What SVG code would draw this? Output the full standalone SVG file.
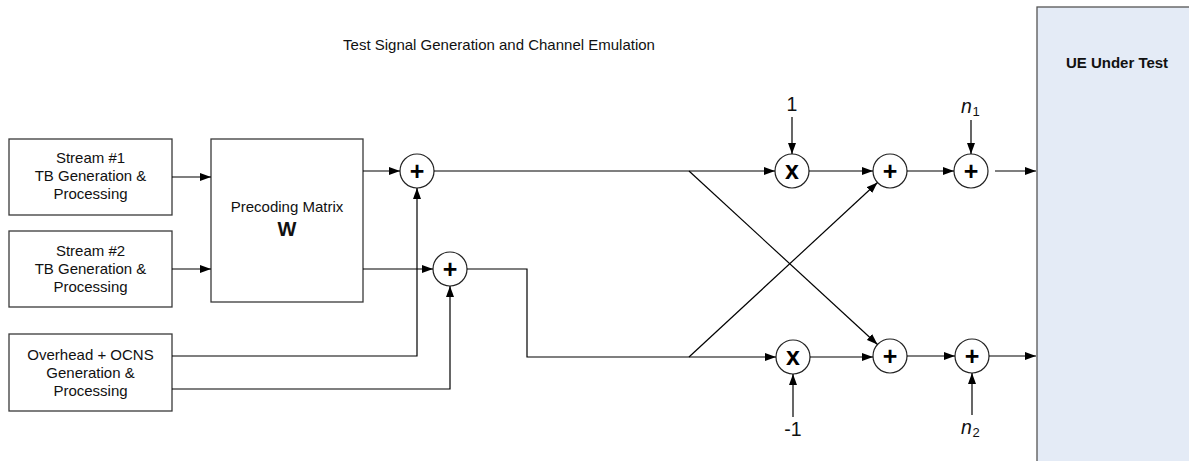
<svg xmlns="http://www.w3.org/2000/svg" width="1189" height="461" viewBox="0 0 1189 461">
<style>
.box{fill:#fff;stroke:#3a3a3a;stroke-width:1.3}
.ue{fill:#e4ebf6;stroke:#555;stroke-width:1.3}
.op{fill:#fff;stroke:#222;stroke-width:1.2}
.t{font-family:"Liberation Sans",Arial,sans-serif;font-size:15px;fill:#111;text-anchor:middle}
.sym{font-family:"Liberation Sans",Arial,sans-serif;font-size:25px;font-weight:bold;fill:#000;text-anchor:middle}
.lbl{font-family:"Liberation Sans",Arial,sans-serif;font-size:19.5px;fill:#111;text-anchor:middle}
.it{font-family:"Liberation Sans",Arial,sans-serif;font-size:19.5px;font-style:italic;fill:#111}
.sub{font-family:"Liberation Sans",Arial,sans-serif;font-size:13px;fill:#111}
.c{fill:none;stroke:#000;stroke-width:1.2}
.a{marker-end:url(#ah)}
</style>
<defs>
<marker id="ah" markerUnits="userSpaceOnUse" markerWidth="11" markerHeight="8" refX="11" refY="4" orient="auto">
<path d="M0,0 L11,4 L0,8 z" fill="#000"/>
</marker>
</defs>
<text class="t" x="499" y="50">Test Signal Generation and Channel Emulation</text>
<g id="ue"><rect class="ue" x="1037" y="7" width="170" height="470"/><text class="t" x="1117" y="68" style="font-weight:bold">UE Under Test</text></g>
<g id="stream1"><rect class="box" x="9" y="139" width="163" height="76"/><text class="t" x="90.5" y="162.7">Stream #1</text><text class="t" x="90.5" y="181">TB Generation &amp;</text><text class="t" x="90.5" y="199.3">Processing</text></g>
<g id="stream2"><rect class="box" x="9" y="231" width="163" height="76"/><text class="t" x="90.5" y="255.5">Stream #2</text><text class="t" x="90.5" y="273.8">TB Generation &amp;</text><text class="t" x="90.5" y="292">Processing</text></g>
<g id="overhead"><rect class="box" x="9" y="334" width="163" height="77"/><text class="t" x="90.5" y="359.5">Overhead + OCNS</text><text class="t" x="90.5" y="377.7">Generation &amp;</text><text class="t" x="90.5" y="395.8">Processing</text></g>
<g id="precoding"><rect class="box" x="211" y="139" width="152" height="163"/><text class="t" x="287" y="212">Precoding Matrix</text><text class="t" x="287" y="235.5" style="font-size:20px;font-weight:bold">W</text></g>
<g id="sum1"><circle class="op" cx="417" cy="171" r="17"/><text class="sym" x="417" y="180">+</text></g>
<g id="sum2"><circle class="op" cx="450" cy="269" r="17"/><text class="sym" x="450" y="278">+</text></g>
<g id="mul1"><circle class="op" cx="792" cy="171" r="17"/><text class="sym" x="792" y="179">x</text></g>
<g id="mul2"><circle class="op" cx="793" cy="357" r="17"/><text class="sym" x="793" y="365">x</text></g>
<g id="add3a"><circle class="op" cx="890" cy="171" r="17"/><text class="sym" x="890" y="180">+</text></g>
<g id="add3b"><circle class="op" cx="890" cy="356" r="17"/><text class="sym" x="890" y="365">+</text></g>
<g id="add4a"><circle class="op" cx="971" cy="171" r="17"/><text class="sym" x="971" y="180">+</text></g>
<g id="add4b"><circle class="op" cx="972" cy="356" r="17"/><text class="sym" x="972" y="365">+</text></g>
<g id="in1"><text class="lbl" x="792" y="110.7">1</text></g>
<g id="inm1"><text class="lbl" x="793" y="436">-1</text></g>
<g id="n1"><text class="it" x="961" y="113">n</text><text class="sub" x="972.5" y="116">1</text></g>
<g id="n2"><text class="it" x="961" y="434">n</text><text class="sub" x="972.5" y="437">2</text></g>
<g id="connectors">
<line class="c a" x1="172" y1="177" x2="211" y2="177"/>
<line class="c a" x1="172" y1="269" x2="211" y2="269"/>
<line class="c a" x1="363" y1="171" x2="400" y2="171"/>
<line class="c a" x1="363" y1="269" x2="433" y2="269"/>
<polyline class="c a" points="172,356 417,356 417,188"/>
<polyline class="c a" points="172,389 450,389 450,286"/>
<line class="c a" x1="434" y1="171" x2="775" y2="171"/>
<polyline class="c a" points="467,269 527,269 527,357 776,357"/>
<line class="c a" x1="689" y1="171" x2="877.5" y2="344.5"/>
<line class="c a" x1="689" y1="357" x2="877.5" y2="182.5"/>
<line class="c a" x1="809" y1="171" x2="873" y2="171"/>
<line class="c a" x1="810" y1="357" x2="873" y2="357"/>
<line class="c a" x1="907" y1="171" x2="954" y2="171"/>
<line class="c a" x1="907" y1="356" x2="955" y2="356"/>
<line class="c a" x1="995" y1="171" x2="1036" y2="171"/>
<line class="c a" x1="989" y1="356" x2="1036" y2="356"/>
<line class="c a" x1="792" y1="117" x2="792" y2="154"/>
<line class="c a" x1="793" y1="417" x2="793" y2="374"/>
<line class="c a" x1="971" y1="120" x2="971" y2="154"/>
<line class="c a" x1="972" y1="415" x2="972" y2="373"/>
</g>
</svg>
